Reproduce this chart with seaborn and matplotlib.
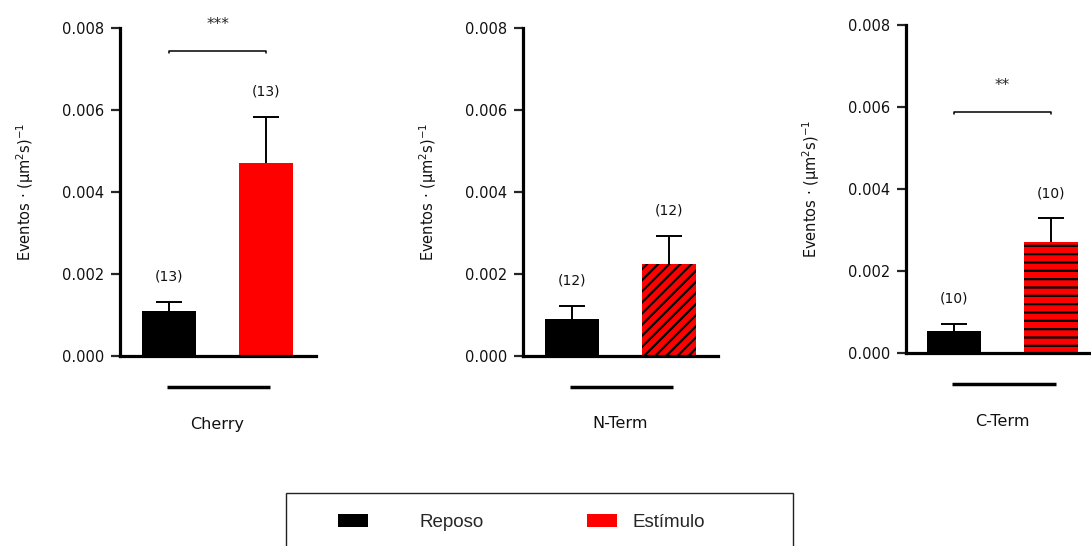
import numpy as np
import pandas as pd
import matplotlib
matplotlib.use("Agg")
import matplotlib.pyplot as plt
import matplotlib.transforms as mtransforms
from matplotlib.patches import Patch, Rectangle
import seaborn as sns

# ---------------- data ----------------
categories = ["Cherry", "N-Term", "C-Term"]
conditions = ["Reposo", "Estímulo"]
reposo_mean = [0.00110, 0.00090, 0.00054]
reposo_sem = [0.00022, 0.00032, 0.00017]
estimulo_mean = [0.00471, 0.00224, 0.00271]
estimulo_sem = [0.00112, 0.00069, 0.00058]
n_reposo = [13, 12, 10]
n_estimulo = [13, 12, 10]
sig_labels = ["***", "", "**"]
sig_height = [0.00744, None, 0.00588]
hatches = ["", "///", "--"]
y_ticks = [0.000, 0.002, 0.004, 0.006, 0.008]
colors = {"Reposo": "#000000", "Estímulo": "#FF0000"}

# ---------------- style ----------------
sns.set_style("ticks")
plt.rcParams["font.family"] = ["DejaVu Sans"]
plt.rcParams["hatch.linewidth"] = 1.6
plt.rcParams["hatch.color"] = "black"

W, H = 1091, 546
fig = plt.figure(figsize=(W / 100, H / 100), dpi=100)

# axes rectangles in pixels: (left, top, right, bottom)
rects = [(120, 28, 316, 356), (523, 28, 718, 356), (906, 25, 1091, 353)]
xlims = [(-0.505, 1.515), (-0.505, 1.505), (-0.495, 1.41)]

for i, cat in enumerate(categories):
    l, t, r, b = rects[i]
    ax = fig.add_axes([l / W, (H - b) / H, (r - l) / W, (b - t) / H])
    ax_h = b - t
    ax_w = r - l
    df = pd.DataFrame({
        "cond": conditions,
        "value": [reposo_mean[i], estimulo_mean[i]],
    })
    sns.barplot(data=df, x="cond", y="value", hue="cond", order=conditions,
                hue_order=conditions, palette=colors, width=0.557,
                errorbar=None, legend=False, ax=ax, linewidth=0,
                saturation=1)
    for p in ax.patches:
        if p.get_x() > 0.3 and hatches[i]:
            p.set_hatch(hatches[i])
            p.set_edgecolor("black")
            p.set_linewidth(0)
    sems = [reposo_sem[i], estimulo_sem[i]]
    means = [reposo_mean[i], estimulo_mean[i]]
    eb = ax.errorbar([0, 1], means, yerr=[[0, 0], sems], fmt="none",
                     ecolor="black", elinewidth=1.4, capsize=9.5,
                     capthick=1.4, zorder=1)
    # keep only the upper caps
    for cl in eb[1]:
        yd = np.asarray(cl.get_ydata(), dtype=float)
        if np.allclose(yd, means):
            cl.set_visible(False)
    # n labels
    for x, m, s, n in zip([0, 1], means, sems, [n_reposo[i], n_estimulo[i]]):
        ax.annotate(f"({n})", xy=(x, m + s), xytext=(0, 18),
                    textcoords="offset points", ha="center", va="center",
                    fontsize=10, color="#111111", annotation_clip=False)
    # significance bracket
    if sig_height[i] is not None:
        y = sig_height[i]
        tick = 2.0 / ax_h * 0.008
        ax.plot([0, 0, 1, 1], [y - tick, y, y, y - tick], color="black",
                lw=1.1, clip_on=False)
        ax.annotate(sig_labels[i], xy=(0.5, y), xytext=(0, 19),
                    textcoords="offset points", ha="center", va="center",
                    fontsize=11, annotation_clip=False)
    # grouping line and category label
    trans = mtransforms.blended_transform_factory(ax.transData, ax.transAxes)
    ax.plot([-0.025, 1.045], [-31 / ax_h] * 2, color="black", lw=2.5,
            transform=trans, clip_on=False, solid_capstyle="butt")
    ax.text(0.5, -68 / ax_h, cat, transform=trans, ha="center", va="center",
            fontsize=11.5, color="#111111")

    ax.set_xlim(*xlims[i])
    ax.set_ylim(0, 0.008)
    ax.set_yticks(y_ticks)
    ax.set_yticklabels([f"{v:.3f}" for v in y_ticks], fontsize=10.5,
                       color="#111111")
    ax.set_xlabel("")
    ax.set_ylabel("Eventos · (µm$^2$s)$^{-1}$", fontsize=10.5,
                  color="#111111")
    ax.yaxis.set_label_coords(-84 / ax_w, 0.5)
    ax.tick_params(axis="x", bottom=False, labelbottom=False)
    ax.tick_params(axis="y", direction="out", length=6.5, width=1.6, pad=5)
    for s in ["top", "right"]:
        ax.spines[s].set_visible(False)
    for s in ["left", "bottom"]:
        ax.spines[s].set_linewidth(2.3)
        ax.spines[s].set_color("black")

# ---------------- legend ----------------
frame = Rectangle((286 / W, (H - 570) / H), (793 - 286) / W, 77 / H,
                  transform=fig.transFigure, fill=False, edgecolor="#222222",
                  lw=1.0)
fig.add_artist(frame)
leg_font = {"family": "Liberation Sans", "size": 13.5}
yc = (H - 522.5) / H
leg1 = fig.legend(handles=[Patch(facecolor="#000000", edgecolor="none")],
                  labels=["Reposo"], loc="center left",
                  bbox_to_anchor=(338 / W, yc), frameon=False, prop=leg_font,
                  handlelength=1.6, handleheight=0.7, handletextpad=2.75,
                  borderpad=0, borderaxespad=0)
leg2 = fig.legend(handles=[Patch(facecolor="#FF0000", edgecolor="none")],
                  labels=["Estímulo"], loc="center left",
                  bbox_to_anchor=(587 / W, yc), frameon=False, prop=leg_font,
                  handlelength=1.6, handleheight=0.7, handletextpad=0.8,
                  borderpad=0, borderaxespad=0)

fig.savefig("out.png", dpi=100)
